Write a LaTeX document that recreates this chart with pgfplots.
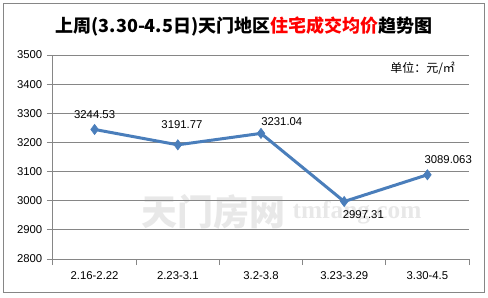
\documentclass[border=0pt]{standalone}
\usepackage{fontspec}
\setmainfont{Liberation Sans}
\newfontfamily\cjk{Noto Sans CJK SC}
\newfontfamily\wmserif{Liberation Serif}
\usepackage{pgfplots}
\pgfplotsset{compat=1.18}
\definecolor{ser}{HTML}{4A7EBB}
\definecolor{grd}{HTML}{868686}
\begin{document}
\begin{tikzpicture}
\path (-39.75pt,-28.5pt) rectangle (326.25pt,194.25pt);
\draw[grd, line width=0.75pt] (-36.75pt,-24.75pt) rectangle (323.25pt,191.25pt);
% watermark
\node[text=gray!18, font=\cjk\bfseries\fontsize{27}{27}\selectfont] at (120pt,35.25pt) {天门房网};
\node[text=gray!18, font=\wmserif\bfseries\fontsize{19}{19}\selectfont] at (228pt,35.25pt) {tmfang.com};
\begin{axis}[
  at={(0,0)}, anchor=south west, scale only axis,
  width=312pt, height=153pt,
  xmin=-0.5, xmax=4.5, ymin=2800, ymax=3500,
  ytick={2800,2900,...,3500},
  xtick={-0.5,0.5,1.5,2.5,3.5,4.5},
  xticklabels={},
  extra x ticks={0,1,2,3,4},
  extra x tick labels={2.16-2.22,2.23-3.1,3.2-3.8,3.23-3.29,3.30-4.5},
  extra x tick style={major tick length=0pt, xticklabel style={yshift=-6pt}},
  axis lines*=left,
  axis line style={grd, line width=0.75pt},
  tick style={grd, line width=0.75pt},
  tick align=outside,
  major tick length=4.5pt,
  ymajorgrids,
  grid style={grd, line width=0.75pt},
  /pgf/number format/assume math mode=true,
  /pgf/number format/set thousands separator={},
  ticklabel style={font=\fontsize{8.5}{8.5}\selectfont},
  clip=false,
]
\addplot[ser, line width=2.25pt, mark=diamond*, mark size=3.8pt, mark options={solid, fill=ser, draw=ser, line width=0.5pt}]
  coordinates {(0,3244.53) (1,3191.77) (2,3231.04) (3,2997.31) (4,3089.063)};
\begin{scope}[every node/.style={font=\fontsize{8.5}{8.5}\selectfont, inner sep=0pt}]
\node at (axis cs:0,3294) {3244.53};
\node at (axis cs:1.05,3260) {3191.77};
\node at (axis cs:2.25,3270) {3231.04};
\node at (axis cs:3.23,2951) {2997.31};
\node at (axis cs:4.25,3140) {3089.063};
\end{scope}
\end{axis}
\node[font=\cjk\bfseries\fontsize{13.5}{13.5}\selectfont] at (143.25pt,174.75pt) {上周(3.30-4.5日)天门地区\textcolor{red}{住宅成交均价}趋势图};
\node[anchor=east, font=\cjk\fontsize{9}{9}\selectfont] at (305pt,143pt) {单位：元/㎡};
\end{tikzpicture}
\end{document}
